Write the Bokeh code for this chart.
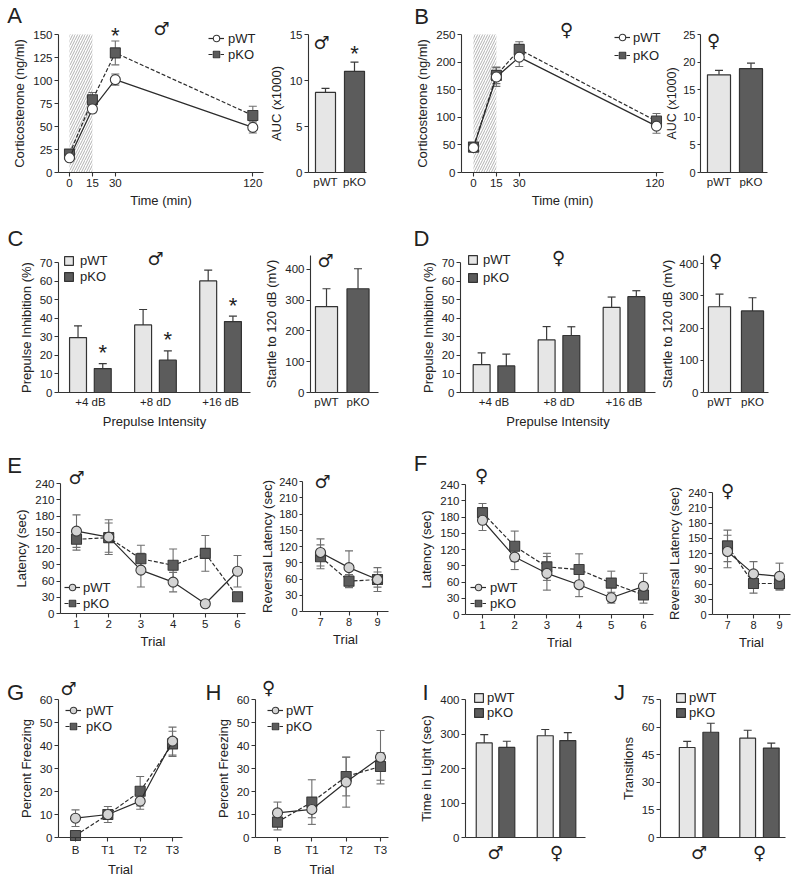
from bokeh.plotting import figure
from bokeh.layouts import column, row
from bokeh.models import (ColumnDataSource, Whisker, TeeHead, Label, Legend, LegendItem,
                          FixedTicker, Range1d)
from bokeh.embed import file_html
from bokeh.resources import INLINE

# ---------------- data ----------------
GENOTYPES = ["pWT", "pKO"]
MALE = "\u2642"
FEMALE = "\u2640"

# A / B : corticosterone time course and AUC
cort_time = [0, 15, 30, 120]
stress_window = [0, 15]
a_wt = [16, 69, 101, 49]
a_wt_err = [3, 4, 6, 6]
a_ko = [20, 79, 130, 62]
a_ko_err = [3, 8, 13, 10]
a_auc = [8.7, 11.0]
a_auc_err = [0.45, 1.0]

b_wt = [45, 173, 209, 84]
b_wt_err = [4, 17, 17, 13]
b_ko = [46, 176, 223, 93]
b_ko_err = [4, 15, 14, 14]
b_auc = [17.7, 18.8]
b_auc_err = [0.8, 1.0]

# C / D : prepulse inhibition and startle
ppi_levels = ["+4 dB", "+8 dD", "+16 dB"]
c_wt = [29.6, 36.4, 60.1]
c_wt_err = [6.3, 8.3, 5.8]
c_ko = [12.9, 17.4, 38.2]
c_ko_err = [2.7, 5.0, 2.9]
c_startle = [279, 337]
c_startle_err = [58, 65]

d_wt = [15.0, 28.3, 45.8]
d_wt_err = [6.3, 7.2, 5.6]
d_ko = [14.3, 30.7, 51.6]
d_ko_err = [6.4, 4.7, 3.2]
d_startle = [266, 253]
d_startle_err = [39, 41]

# E / F : latency (acquisition trials 1-6, reversal trials 7-9)
trials = [1, 2, 3, 4, 5, 6]
rev_trials = [7, 8, 9]
e_wt = [152, 141, 80, 58, 18, 78]
e_wt_err = [30, 32, 31, 18, 3, 29]
e_ko = [137, 140, 101, 89, 111, 31]
e_ko_err = [20, 27, 25, 30, 33, 4]
er_wt = [109, 81, 59]
er_wt_err = [25, 31, 22]
er_ko = [101, 56, 59]
er_ko_err = [22, 12, 14]

f_wt = [174, 106, 76, 55, 31, 52]
f_wt_err = [19, 23, 31, 22, 10, 24]
f_ko = [188, 126, 88, 83, 58, 36]
f_ko_err = [17, 28, 25, 29, 22, 15]
fr_wt = [124, 80, 75]
fr_wt_err = [32, 24, 26]
fr_ko = [135, 61, 61]
fr_ko_err = [31, 19, 13]

# G / H : fear conditioning
fear_trials = ["B", "T1", "T2", "T3"]
g_wt = [8.4, 10.0, 15.8, 41.9]
g_wt_err = [3.6, 3.5, 3.5, 6.1]
g_ko = [0.9, 10.0, 20.1, 40.7]
g_ko_err = [0.5, 1.8, 6.4, 5.5]
h_wt = [10.7, 12.2, 24.1, 34.9]
h_wt_err = [4.7, 3.6, 10.9, 11.6]
h_ko = [6.7, 15.4, 26.5, 30.9]
h_ko_err = [3.4, 9.7, 8.4, 6.0]

# I / J : light-dark box
sexes = [MALE, FEMALE]
i_wt = [274, 295]
i_wt_err = [24, 18]
i_ko = [261, 281]
i_ko_err = [18, 23]
j_wt = [48.9, 54.0]
j_wt_err = [3.3, 4.3]
j_ko = [57.2, 48.6]
j_ko_err = [4.9, 2.7]

# ---------------- style ----------------
FONT = "Liberation Sans"
SYM_FONT = "DejaVu Sans"
INK = "#222222"
AXIS = "#333333"
WT_BAR = "#e6e6e6"
KO_BAR = "#5c5c5c"
WT_OPEN = "#ffffff"
WT_GRAY = "#d4d4d4"
KO_PT = "#5c5c5c"
ERR = "#6e6e6e"


def fig(w, h, left, right, top, bottom, xr, yr, yticks, frame, ylabel=None, xlabel=None,
        tick_size="11.5px"):
    """Figure whose plotting frame fills the canvas; axes are pinned at the inner box."""
    fw = w - left - right
    fh = h - top - bottom
    sx = (xr[1] - xr[0]) / fw
    sy = (yr[1] - yr[0]) / fh
    p = figure(width=w, height=h,
               x_range=Range1d(xr[0] - left * sx, xr[1] + right * sx),
               y_range=Range1d(yr[0] - bottom * sy, yr[1] + top * sy),
               output_backend="svg", toolbar_location=None, min_border=0)
    p.outline_line_color = None
    p.xgrid.visible = False
    p.ygrid.visible = False
    p.axis.axis_line_color = AXIS
    p.axis.axis_line_width = 1.1
    p.axis.major_tick_line_color = AXIS
    p.axis.major_tick_line_width = 1.1
    p.axis.major_tick_in = 0
    p.axis.major_tick_out = 4
    p.axis.minor_tick_line_color = None
    p.axis.major_label_text_font = FONT
    p.axis.major_label_text_font_size = tick_size
    p.axis.major_label_text_color = INK
    p.axis.major_label_standoff = 2
    p.axis.axis_label_text_font = FONT
    p.axis.axis_label_text_font_size = "13px"
    p.axis.axis_label_text_font_style = "normal"
    p.axis.axis_label_text_color = INK
    p.axis.axis_label_standoff = 3
    p.yaxis.ticker = FixedTicker(ticks=yticks)
    p.yaxis.fixed_location = xr[0]
    p.yaxis.bounds = (yr[0], yr[1])
    p.xaxis.fixed_location = yr[0]
    p.xaxis.bounds = (xr[0], xr[1])
    if ylabel:
        p.yaxis.axis_label = ylabel
    if xlabel:
        p.xaxis.axis_label = xlabel
    origin = (frame[0] - left, frame[1] + bottom)
    return p, origin


def tight_y(p, tick="11px", label="12.5px"):
    p.yaxis.major_label_text_font_size = tick
    p.yaxis.major_tick_out = 3
    p.yaxis.major_label_standoff = 2
    p.yaxis.axis_label_standoff = 1
    p.yaxis.axis_label_text_font_size = label


def cat_axis(p, labels, tick_out=0, size=None, font=FONT, standoff=2):
    p.xaxis.ticker = FixedTicker(ticks=list(range(len(labels))))
    p.xaxis.major_label_overrides = {i: l for i, l in enumerate(labels)}
    p.xaxis.major_tick_out = tick_out
    p.xaxis.major_label_standoff = standoff
    if size:
        p.xaxis.major_label_text_font_size = size
    p.xaxis.major_label_text_font = font


def put(p, org, rx, ry, text, size, font=FONT):
    p.add_layout(Label(x=rx - org[0], y=org[1] - ry, x_units="screen", y_units="screen",
                       text=text, text_font=font, text_font_size=size, text_color=INK,
                       text_align="center", text_baseline="middle"))


def star(p, x, y, gap):
    p.add_layout(Label(x=x, y=y, y_offset=gap - 5, text="*", text_font=FONT,
                       text_font_size="22px", text_color=INK,
                       text_align="center", text_baseline="middle"))


def series(p, x, y, err, dashed, marker, fill):
    src = ColumnDataSource(dict(x=x, y=y,
                                lo=[v - e for v, e in zip(y, err)],
                                hi=[v + e for v, e in zip(y, err)]))
    p.add_layout(Whisker(source=src, base="x", lower="lo", upper="hi",
                         line_color=ERR, line_width=1.1,
                         lower_head=TeeHead(size=8, line_color=ERR, line_width=1.1),
                         upper_head=TeeHead(size=8, line_color=ERR, line_width=1.1)))
    ln = p.line("x", "y", source=src, line_color="#2b2b2b", line_width=1.2,
                line_dash="4 2" if dashed else "solid")
    mk = p.scatter("x", "y", source=src, marker=marker, size=10, fill_color=fill,
                   line_color="#3a3a3a", line_width=1.1)
    return [ln, mk]


def bars(p, x, top, err, fill, width):
    src = ColumnDataSource(dict(x=x, top=top, fill=fill,
                                hi=[t + e for t, e in zip(top, err)]))
    p.add_layout(Whisker(source=src, base="x", lower="top", upper="hi",
                         line_color="#3a3a3a", line_width=1.2, lower_head=None,
                         upper_head=TeeHead(size=8, line_color="#3a3a3a", line_width=1.2)))
    return p.vbar(x="x", top="top", bottom=0, width=width, source=src,
                  fill_color="fill", line_color="#333333", line_width=1.2)


def legend(p, org, items, glyph_left, first_ry, pitch, standoff, glyph=16, row_h=16):
    spacing = max(0, pitch - row_h)
    bottom_ry = first_ry + (row_h + spacing) * (len(items) - 1) + row_h / 2
    leg = Legend(items=[LegendItem(label=l, renderers=r) for l, r in items],
                 location=(glyph_left - org[0], org[1] - bottom_ry), orientation="vertical",
                 padding=0, margin=0, spacing=spacing, glyph_width=glyph,
                 glyph_height=glyph, label_standoff=standoff, label_height=12,
                 label_width=10, label_text_font=FONT, label_text_font_size="13px",
                 label_text_color=INK, border_line_color=None, background_fill_alpha=0)
    p.add_layout(leg)


def grouped(n, off):
    return [i - off for i in range(n)], [i + off for i in range(n)]


def hatch(p, top):
    p.quad(left=[stress_window[0]], right=[stress_window[1]], bottom=[0], top=[top],
           fill_color="white", fill_alpha=0, line_color=None, hatch_pattern="/",
           hatch_color="#a8a8a8", hatch_scale=5, hatch_weight=0.9, level="underlay")


# ---------------- Row 1: A, B ----------------
pA, oA = fig(268, 215, 58, 5, 34, 43, (-7.2, 127), (0, 150), list(range(0, 151, 25)),
             (58, 172), "Corticosterone (ng/ml)", "Time (min)")
pA.xaxis.ticker = FixedTicker(ticks=cort_time)
hatch(pA, 150)
koA = series(pA, cort_time, a_ko, a_ko_err, True, "square", KO_PT)
wtA = series(pA, cort_time, a_wt, a_wt_err, False, "circle", WT_OPEN)
legend(pA, oA, [("pWT", wtA), ("pKO", koA)], 208, 38, 16, 4)
star(pA, cort_time[2], a_ko[2] + a_ko_err[2], 10)
put(pA, oA, 14, 15, "A", "22px")
put(pA, oA, 161, 28, MALE, "18px", SYM_FONT)

pAa, oAa = fig(132, 215, 40, 34, 34, 43, (-0.586, 1.414), (0, 15), [0, 5, 10, 15],
               (308, 172), "AUC (x1000)")
cat_axis(pAa, GENOTYPES, standoff=3)
bars(pAa, [0, 1], a_auc, a_auc_err, [WT_BAR, KO_BAR], 0.69)
star(pAa, 1, a_auc[1] + a_auc_err[1], 14)
put(pAa, oAa, 321, 42, MALE, "18px", SYM_FONT)

pB, oB = fig(264, 215, 61, 1, 34, 43, (-7.87, 124.6), (0, 250), list(range(0, 251, 50)),
             (461, 172), "Corticosterone (ng/ml)", "Time (min)")
pB.xaxis.ticker = FixedTicker(ticks=cort_time)
hatch(pB, 250)
koB = series(pB, cort_time, b_ko, b_ko_err, True, "square", KO_PT)
wtB = series(pB, cort_time, b_wt, b_wt_err, False, "circle", WT_OPEN)
legend(pB, oB, [("pWT", wtB), ("pKO", koB)], 614, 37, 18, 3)
put(pB, oB, 421, 16, "B", "22px")
put(pB, oB, 566, 29, FEMALE, "18px", SYM_FONT)

pBa, oBa = fig(128, 215, 36, 25, 34, 43, (-0.578, 1.516), (0, 25), [0, 5, 10, 15, 20, 25],
               (700, 172), "AUC (x1000)")
tight_y(pBa)
cat_axis(pBa, GENOTYPES, standoff=3)
bars(pBa, [0, 1], b_auc, b_auc_err, [WT_BAR, KO_BAR], 0.72)
put(pBa, oBa, 713, 40, FEMALE, "18px", SYM_FONT)

# ---------------- Row 2: C, D ----------------
OFF = 0.19
pC, oC = fig(262, 215, 58, 12, 47, 38, (-0.49, 2.46), (0, 70), list(range(0, 71, 10)),
             (58, 392), "Prepulse Inhibition (%)", "Prepulse Intensity")
cat_axis(pC, ppi_levels, standoff=3)
xw, xk = grouped(len(ppi_levels), OFF)
bC1 = bars(pC, xw, c_wt, c_wt_err, [WT_BAR] * 3, 0.26)
bC2 = bars(pC, xk, c_ko, c_ko_err, [KO_BAR] * 3, 0.26)
legend(pC, oC, [("pWT", [bC1]), ("pKO", [bC2])], 63, 260, 16, 6, glyph=11, row_h=15)
for xi, v, e in zip(xk, c_ko, c_ko_err):
    star(pC, xi, v + e, 16)
put(pC, oC, 15, 238, "C", "22px")
put(pC, oC, 155, 258, MALE, "18px", SYM_FONT)

pCs, oCs = fig(138, 215, 48, 22, 40, 38, (-0.508, 1.65), (0, 445), [0, 100, 200, 300, 400],
               (310, 392), "Startle to 120 dB (mV)")
cat_axis(pCs, GENOTYPES, standoff=3)
bars(pCs, [0, 1], c_startle, c_startle_err, [WT_BAR, KO_BAR], 0.7)
put(pCs, oCs, 325, 260, MALE, "18px", SYM_FONT)

pD, oD = fig(257, 215, 60, 2, 47, 38, (-0.515, 2.485), (0, 70), list(range(0, 71, 10)),
             (460, 392), "Prepulse Inhibition (%)", "Prepulse Intensity")
cat_axis(pD, ppi_levels, standoff=3)
bD1 = bars(pD, xw, d_wt, d_wt_err, [WT_BAR] * 3, 0.26)
bD2 = bars(pD, xk, d_ko, d_ko_err, [KO_BAR] * 3, 0.26)
legend(pD, oD, [("pWT", [bD1]), ("pKO", [bD2])], 467, 259, 18, 5, glyph=11, row_h=15)
put(pD, oD, 421, 238, "D", "22px")
put(pD, oD, 558, 257, FEMALE, "18px", SYM_FONT)

pDs, oDs = fig(135, 215, 46, 24, 40, 38, (-0.485, 1.485), (0, 425), [0, 100, 200, 300, 400],
               (703, 392), "Startle to 120 dB (mV)")
tight_y(pDs, tick="11.5px", label="13px")
cat_axis(pDs, GENOTYPES, standoff=3)
bars(pDs, [0, 1], d_startle, d_startle_err, [WT_BAR, KO_BAR], 0.67)
put(pDs, oDs, 715, 260, FEMALE, "18px", SYM_FONT)

# ---------------- Row 3: E, F ----------------
lat_ticks = list(range(0, 241, 30))
pE, oE = fig(257, 245, 60, 12, 53, 62, (0.503, 6.248), (0, 240), lat_ticks,
             (60, 613), "Latency (sec)", "Trial")
pE.xaxis.ticker = FixedTicker(ticks=trials)
koE = series(pE, trials, e_ko, e_ko_err, True, "square", KO_PT)
wtE = series(pE, trials, e_wt, e_wt_err, False, "circle", WT_GRAY)
legend(pE, oE, [("pWT", wtE), ("pKO", koE)], 64, 587, 16, 3)
put(pE, oE, 14, 465, "E", "22px")
put(pE, oE, 76, 477, MALE, "18px", SYM_FONT)

pEr, oEr = fig(143, 245, 45, 12, 51, 64, (6.368, 9.386), (0, 240), lat_ticks,
               (302, 611), "Reversal Latency (sec)", "Trial", tick_size="11px")
tight_y(pEr, tick="11px", label="13px")
pEr.xaxis.ticker = FixedTicker(ticks=rev_trials)
series(pEr, rev_trials, er_ko, er_ko_err, True, "square", KO_PT)
series(pEr, rev_trials, er_wt, er_wt_err, False, "circle", WT_GRAY)
put(pEr, oEr, 322, 481, MALE, "18px", SYM_FONT)

pF, oF = fig(265, 245, 65, 12, 54, 61, (0.472, 6.311), (0, 240), lat_ticks,
             (465, 614), "Latency (sec)", "Trial")
pF.xaxis.ticker = FixedTicker(ticks=trials)
koF = series(pF, trials, f_ko, f_ko_err, True, "square", KO_PT)
wtF = series(pF, trials, f_wt, f_wt_err, False, "circle", WT_GRAY)
legend(pF, oF, [("pWT", wtF), ("pKO", koF)], 470, 587, 16, 4)
put(pF, oF, 420, 463, "F", "22px")
put(pF, oF, 481, 475, FEMALE, "18px", SYM_FONT)

pFr, oFr = fig(127, 245, 47, 2, 62, 61, (6.423, 9.423), (0, 240), lat_ticks,
               (712, 614), "Reversal Latency (sec)", "Trial", tick_size="11px")
pFr.xaxis.ticker = FixedTicker(ticks=rev_trials)
series(pFr, rev_trials, fr_ko, fr_ko_err, True, "square", KO_PT)
series(pFr, rev_trials, fr_wt, fr_wt_err, False, "circle", WT_GRAY)
put(pFr, oFr, 727, 490, FEMALE, "18px", SYM_FONT)

# ---------------- Row 4: G, H, I, J ----------------
fz_ticks = list(range(0, 61, 10))
fx = list(range(len(fear_trials)))
pG, oG = fig(200, 200, 58, 18, 24, 38, (-0.526, 3.309), (0, 60), fz_ticks,
             (58, 837), "Percent Freezing", "Trial")
cat_axis(pG, fear_trials, tick_out=4, standoff=2)
koG = series(pG, fx, g_ko, g_ko_err, True, "square", KO_PT)
wtG = series(pG, fx, g_wt, g_wt_err, False, "circle", WT_GRAY)
legend(pG, oG, [("pWT", wtG), ("pKO", koG)], 65, 710, 16, 5)
put(pG, oG, 15, 692, "G", "22px")
put(pG, oG, 68, 688, MALE, "18px", SYM_FONT)

pH, oH = fig(200, 200, 55, 12, 24, 38, (-0.641, 3.233), (0, 60), fz_ticks,
             (255, 837), "Percent Freezing", "Trial")
cat_axis(pH, fear_trials, tick_out=4, standoff=2)
koH = series(pH, fx, h_ko, h_ko_err, True, "square", KO_PT)
wtH = series(pH, fx, h_wt, h_wt_err, False, "circle", WT_GRAY)
legend(pH, oH, [("pWT", wtH), ("pKO", koH)], 267, 710, 16, 3)
put(pH, oH, 213, 692, "H", "22px")
put(pH, oH, 268, 687, FEMALE, "18px", SYM_FONT)

pI, oI = fig(212, 200, 65, 27, 24, 38, (-0.492, 1.475), (0, 400), [0, 100, 200, 300, 400],
             (465, 837), "Time in Light (sec)")
cat_axis(pI, sexes, size="18px", font=SYM_FONT, standoff=4)
xiw, xik = grouped(len(sexes), 0.185)
bI1 = bars(pI, xiw, i_wt, i_wt_err, [WT_BAR] * 2, 0.262)
bI2 = bars(pI, xik, i_ko, i_ko_err, [KO_BAR] * 2, 0.262)
legend(pI, oI, [("pWT", [bI1]), ("pKO", [bI2])], 473, 697, 15, 3, glyph=11, row_h=15)
put(pI, oI, 425, 692, "I", "22px")

pJ, oJ = fig(180, 200, 48, 7, 24, 38, (-0.636, 1.43), (0, 75), [0, 15, 30, 45, 60, 75],
             (660, 837), "Transitions")
cat_axis(pJ, sexes, size="18px", font=SYM_FONT, standoff=4)
xjw, xjk = grouped(len(sexes), 0.195)
bJ1 = bars(pJ, xjw, j_wt, j_wt_err, [WT_BAR] * 2, 0.26)
bJ2 = bars(pJ, xjk, j_ko, j_ko_err, [KO_BAR] * 2, 0.26)
legend(pJ, oJ, [("pWT", [bJ1]), ("pKO", [bJ2])], 675, 697, 15, 3, glyph=11, row_h=15)
put(pJ, oJ, 619, 692, "J", "22px")

layout = column(
    row(pA, pAa, pB, pBa, spacing=0),
    row(pC, pCs, pD, pDs, spacing=0),
    row(pE, pEr, pF, pFr, spacing=0),
    row(pG, pH, pI, pJ, spacing=0),
    spacing=0,
)

open("out.html", "w").write(file_html(layout, INLINE, title="Figure"))
